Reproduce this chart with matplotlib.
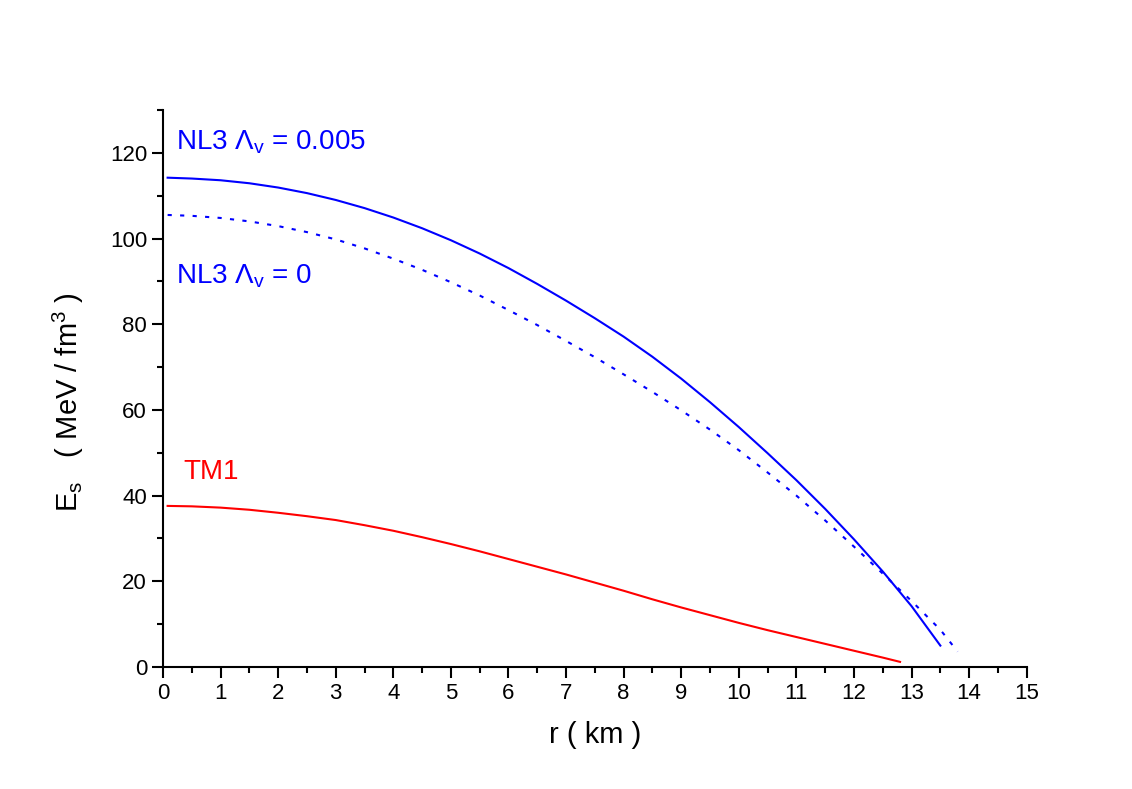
import matplotlib
matplotlib.use("Agg")
import matplotlib.pyplot as plt
from matplotlib.ticker import MultipleLocator

plt.rcParams['font.family'] = ['Liberation Sans', 'DejaVu Sans']
plt.rcParams['mathtext.default'] = 'regular'

# NL3, Lambda_v = 0.005 (solid)
r_nl3_005 = [0.08, 0.5, 1, 1.5, 2, 2.5, 3, 3.5, 4, 4.5, 5, 5.5, 6, 6.5, 7, 7.5,
             8, 8.5, 9, 9.5, 10, 10.5, 11, 11.5, 12, 12.5, 13, 13.5]
e_nl3_005 = [114.2, 114.0, 113.6, 112.9, 111.9, 110.6, 109.0, 107.1, 104.9, 102.4,
             99.6, 96.5, 93.1, 89.4, 85.5, 81.4, 77.1, 72.4, 67.3, 61.8, 56.0,
             49.9, 43.6, 36.9, 29.8, 22.3, 14.2, 5.0]

# NL3, Lambda_v = 0 (dotted)
r_nl3_0 = [0.08, 0.5, 1, 1.5, 2, 2.5, 3, 3.5, 4, 4.5, 5, 5.5, 6, 6.5, 7, 7.5,
           8, 8.5, 9, 9.5, 10, 10.5, 11, 11.5, 12, 12.5, 13, 13.5, 13.8]
e_nl3_0 = [105.5, 105.3, 104.8, 104.0, 102.9, 101.5, 99.8, 97.7, 95.3, 92.7,
           89.8, 86.7, 83.3, 79.8, 76.1, 72.3, 68.3, 64.2, 59.9, 55.4, 50.6,
           45.4, 40.0, 34.2, 28.1, 21.8, 15.4, 8.7, 3.6]

# TM1 (red)
r_tm1 = [0.08, 0.5, 1, 1.5, 2, 2.5, 3, 3.5, 4, 4.5, 5, 5.5, 6, 6.5, 7, 7.5,
         8, 8.5, 9, 9.5, 10, 10.5, 11, 11.5, 12, 12.5, 12.8]
e_tm1 = [37.6, 37.5, 37.2, 36.7, 36.0, 35.2, 34.3, 33.1, 31.8, 30.3, 28.7,
         27.0, 25.2, 23.4, 21.6, 19.7, 17.8, 15.8, 13.9, 12.1, 10.3, 8.6,
         7.0, 5.4, 3.8, 2.2, 1.2]

fig = plt.figure(figsize=(11.32, 7.89), dpi=100)
ax = fig.add_axes([0.144, 0.1546, 0.763, 0.706])

ax.plot(r_nl3_005, e_nl3_005, color='#0000ff', lw=1.5)
ax.plot(r_nl3_0, e_nl3_0, color='#0000ff', lw=1.5, linestyle=(0, (2, 4)))
ax.plot(r_tm1, e_tm1, color='#ff0000', lw=1.5)

ax.set_xlim(0, 15)
ax.set_ylim(0, 130)
ax.xaxis.set_major_locator(MultipleLocator(1))
ax.xaxis.set_minor_locator(MultipleLocator(0.5))
ax.yaxis.set_major_locator(MultipleLocator(20))
ax.yaxis.set_minor_locator(MultipleLocator(10))
ax.tick_params(which='major', direction='out', length=8, width=1.5, labelsize=16)
ax.tick_params(which='minor', direction='out', length=4.5, width=1.5)

for s in ['top', 'right']:
    ax.spines[s].set_visible(False)
for s in ['left', 'bottom']:
    ax.spines[s].set_linewidth(1.5)

ax.set_xlabel('r ( km )', fontsize=21, labelpad=12)
ax.set_ylabel(r'E$_s$   ( MeV / fm$^3$ )', fontsize=21)
ax.yaxis.set_label_coords(-0.089, 0.475)

ax.text(0.22, 120.8, r'NL3 $\Lambda_v$ = 0.005', color='#0000ff', fontsize=20)
ax.text(0.22, 89.4, r'NL3 $\Lambda_v$ = 0', color='#0000ff', fontsize=20)
ax.text(0.35, 43.8, 'TM1', color='#ff0000', fontsize=20)

fig.savefig('out.png', dpi=100)
